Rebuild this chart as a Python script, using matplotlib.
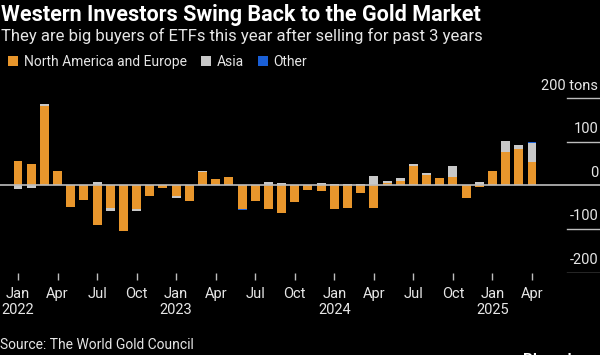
import numpy as np
import matplotlib.pyplot as plt
from matplotlib.patches import Patch

plt.rcParams['font.family'] = ['Roboto', 'DejaVu Sans']

# monthly ETF flows, tons, Jan 2022 .. Apr 2025
months = ['Jan', 'Feb', 'Mar', 'Apr', 'May', 'Jun', 'Jul', 'Aug', 'Sep', 'Oct', 'Nov', 'Dec']
years = [2022, 2023, 2024, 2025]
north_america_europe = [56, 48, 183, 34, -50, -33, -90, -52, -104, -54, -25, -5,
                        -24, -35, 31, 15, 20, -54, -36, -54, -64, -39, -10, -14,
                        -54, -51, -17, -51, 5, 10, 44, 25, 16, 20, -28, -4,
                        34, 77, 84, 54]
asia = [-9, -7, 3, 0, 0, 0, 8, -7, 0, -5, 0, 0,
        -4, 0, 2, 0, 0, 0, 1, 7, 5, 0, 0, 5,
        3, 3, 4, 21, 4, 8, 4, 3, 2, 24, 1, 8,
        0, 25, 8, 44]
other = [0, 0, 0, 0, 0, 0, 0, 0, 0, 0, 0, 0,
         0, 0, 0, 0, 0, -3, 0, 0, 0, 0, 0, 0,
         0, 0, 0, 0, 0, 0, 1, 0, 0, 0, 0, 0,
         0, 1, 0, 1]
yticks = [200, 100, 0, -100, -200]
ytick_labels = ['200 tons', '100', '0', '-100', '-200']

colors = ['#E8962C', '#C8C8C8', '#1A5FD6']
names = ['North America and Europe', 'Asia', 'Other']
bg = '#000000'
txt = '#E6E6E6'

n = len(north_america_europe)
x = np.arange(n)

fig = plt.figure(figsize=(6, 3.55), dpi=100, facecolor=bg)
ax = fig.add_axes([0, 0.231, 1, 0.515], facecolor=bg)

# stack positives upward and negatives downward
pos = np.zeros(n)
neg = np.zeros(n)
for vals, c in zip([north_america_europe, asia, other], colors):
    v = np.array(vals, dtype=float)
    bottom = np.where(v >= 0, pos, neg)
    ax.bar(x, v, bottom=bottom, width=0.68, color=c, linewidth=0, zorder=2)
    pos = pos + np.where(v > 0, v, 0)
    neg = neg + np.where(v < 0, v, 0)

ax.axhline(0, color='#BDBDBD', lw=1.2, zorder=3)
for yv, lab in zip(yticks, ytick_labels):
    if yv != 0:
        ax.axhline(yv, xmin=0.945, xmax=1, color='#BDBDBD', lw=1)
    ax.annotate(lab, xy=(0.997, yv), xycoords=('axes fraction', 'data'),
                xytext=(0, 4), textcoords='offset points',
                ha='right', va='bottom', color=txt, fontsize=10.5)

ax.set_xlim(-1.366, 44.16)
ax.set_ylim(-201.1, 218.6)
ax.set_yticks([])
tick_pos = list(range(0, n, 3))
tick_labels = []
for i in tick_pos:
    m = months[i % 12]
    if i % 12 == 0:
        m = m + '\n' + str(years[i // 12])
    tick_labels.append(m)
ax.set_xticks(tick_pos)
ax.set_xticklabels(tick_labels, color=txt, fontsize=10.5, linespacing=1.2)
ax.tick_params(axis='x', direction='out', length=5, width=1, color='#BDBDBD', pad=5)
for s in ax.spines.values():
    s.set_visible(False)

fig.text(0.002, 0.988, 'Western Investors Swing Back to the Gold Market',
         color='white', fontsize=15.5, fontweight='bold', va='top', ha='left')
fig.text(0.002, 0.922, 'They are big buyers of ETFs this year after selling for past 3 years',
         color=txt, fontsize=12, va='top', ha='left')

handles = [Patch(facecolor=c, edgecolor='none') for c in colors]
fig.legend(handles, names, loc='upper left', bbox_to_anchor=(-0.008, 0.88),
           ncol=3, frameon=False, fontsize=10, labelcolor=txt,
           handlelength=0.75, handleheight=0.75, handletextpad=0.4, columnspacing=1.0)

fig.text(0.0, 0.008, 'Source: The World Gold Council', color=txt, fontsize=10,
         va='bottom', ha='left')
fig.text(0.872, -0.025, 'Bloomberg', color='white', fontsize=11, fontweight='bold',
         va='baseline', ha='left')

fig.savefig('out.png', dpi=100, facecolor=bg)
